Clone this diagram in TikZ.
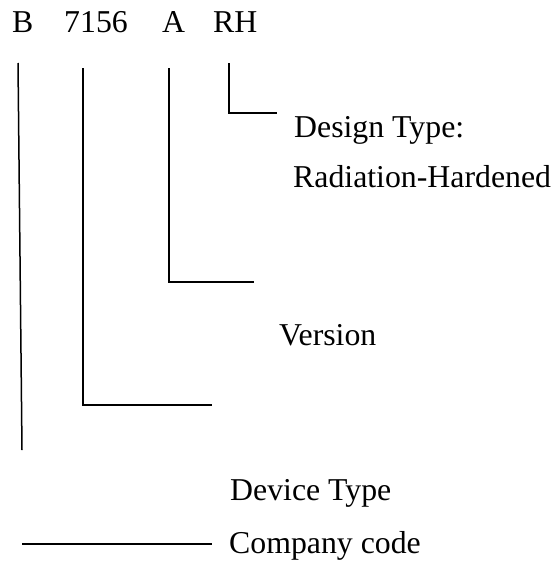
\documentclass[tikz,border=0pt]{standalone}
\usepackage{fontspec}
\setmainfont{Liberation Serif}
\usetikzlibrary{positioning, calc}
\tikzset{
    codetext/.style={inner sep=0pt, anchor=base west, font=\fontsize{31.8}{38}\selectfont},
    leader/.style={draw=black, line width=1.5pt}
}

\begin{document}
\begin{tikzpicture}[x=1pt, y=-1pt]
        \useasboundingbox (0,0) rectangle (558,565);
        % part number
        \node[codetext] (company) at (12,32) {B};
        \node[codetext] (device) at (64,32) {7156};
        \node[codetext] (version) at (162,32) {A};
        \node[codetext] (design) at (213,32) {RH};
        % labels
        \node[codetext] (designlbl) at (294,137) {Design Type:};
        \node[codetext] (radlbl) at (293,187) {Radiation-Hardened};
        \node[codetext] (versionlbl) at (279,345) {Version};
        \node[codetext] (devicelbl) at (230,500) {Device Type};
        \node[codetext] (companylbl) at (229,553) {Company code};
        % leader lines
        \coordinate (companytop) at (18,63);
        \coordinate (companyend) at (22,450);
        \coordinate (devicetop) at (83,68);
        \coordinate (deviceend) at (212,405);
        \coordinate (versiontop) at (169,68);
        \coordinate (versionend) at (254,282);
        \coordinate (designtop) at (229,63);
        \coordinate (designend) at (277,113);
        \coordinate (companystart) at (22,544);
        \coordinate (companystop) at (212,544);
        \draw[leader] (companytop) -- (companyend);
        \draw[leader] (devicetop) |- (deviceend);
        \draw[leader] (versiontop) |- (versionend);
        \draw[leader] (designtop) |- (designend);
        \draw[leader] (companystart) -- (companystop);
    \end{tikzpicture}
\end{document}
